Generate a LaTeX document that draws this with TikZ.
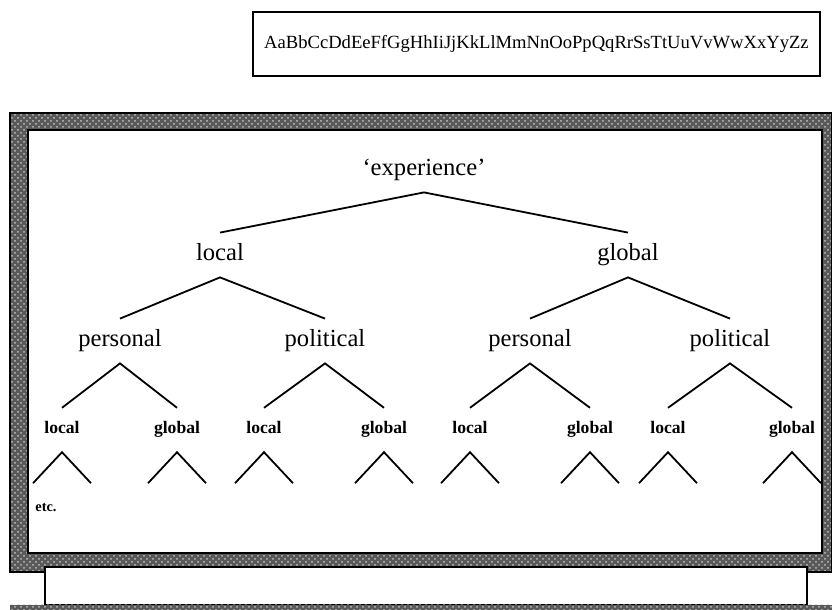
\documentclass[tikz,border=0pt]{standalone}
\usepackage{fontspec}
\setmainfont{Liberation Serif}
\usetikzlibrary{patterns}
\tikzset{>=stealth}
\tikzset{
  lab/.style={font=\fontsize{12.3}{14}\selectfont,inner xsep=0pt,inner ysep=6.5pt,text height=7.5pt,text depth=1.5pt},
  leaf/.style={font=\bfseries\fontsize{8.8}{10}\selectfont,inner xsep=0pt,inner ysep=7.6pt,text height=5.3pt,text depth=1.3pt},
  branch/.style={line width=0.9pt},
  board/.style={line width=0.8pt}
}

\begin{document}
\begin{tikzpicture}[x=0.5pt,y=-0.5pt]
\useasboundingbox (0,0) rectangle (832,610);
% alphabet strip
\node[draw,line width=0.6pt,minimum width=283.5pt,minimum height=32pt,inner sep=0pt,
  font=\fontsize{9.3}{11}\selectfont] (abc) at (536.5,44)
  {AaBbCcDdEeFfGgHhIiJjKkLlMmNnOoPpQqRrSsTtUuVvWwXxYyZz};
% board
\fill[black!65] (10,113) rectangle (832,572);
\fill[pattern=crosshatch dots,pattern color=black!25] (10,113) rectangle (832,572);
\draw[board] (10,113) rectangle (832,572);
\filldraw[board,fill=white] (28,130) rectangle (822,553);
\filldraw[board,fill=white] (45,567) rectangle (807,605);
\fill[black!65] (10,605) rectangle (832,610);
\fill[pattern=crosshatch dots,pattern color=black!25] (10,605) rectangle (832,610);
% tree
\node[lab] (E) at (424,170) {`experience'};
\node[lab] (L) at (220,255) {local};
\node[lab] (G) at (628,255) {global};
\node[lab] (LP) at (120,341) {personal};
\node[lab] (LQ) at (325,341) {political};
\node[lab] (GP) at (530,341) {personal};
\node[lab] (GQ) at (730,341) {political};
\foreach \n/\x/\t in {a/62/local,b/177/global,c/264/local,d/384/global,
                      e/470/local,f/590/global,g/668/local,h/792/global}
  \node[leaf] (\n) at (\x,430) {\t};
\node[leaf,font=\bfseries\fontsize{7.2}{8}\selectfont] (etc) at (46,508) {etc.};
\draw[branch] (L.north) -- (E.south) -- (G.north);
\draw[branch] (LP.north) -- (L.south) -- (LQ.north);
\draw[branch] (GP.north) -- (G.south) -- (GQ.north);
\foreach \p/\l/\r in {LP/a/b,LQ/c/d,GP/e/f,GQ/g/h}
  \draw[branch] (\l.north) -- (\p.south) -- (\r.north);
\foreach \n in {a,b,c,d,e,f,g,h}
  \draw[branch] (\n.south) ++(-29,31) -- (\n.south) -- ++(29,31);
\end{tikzpicture}
\end{document}
